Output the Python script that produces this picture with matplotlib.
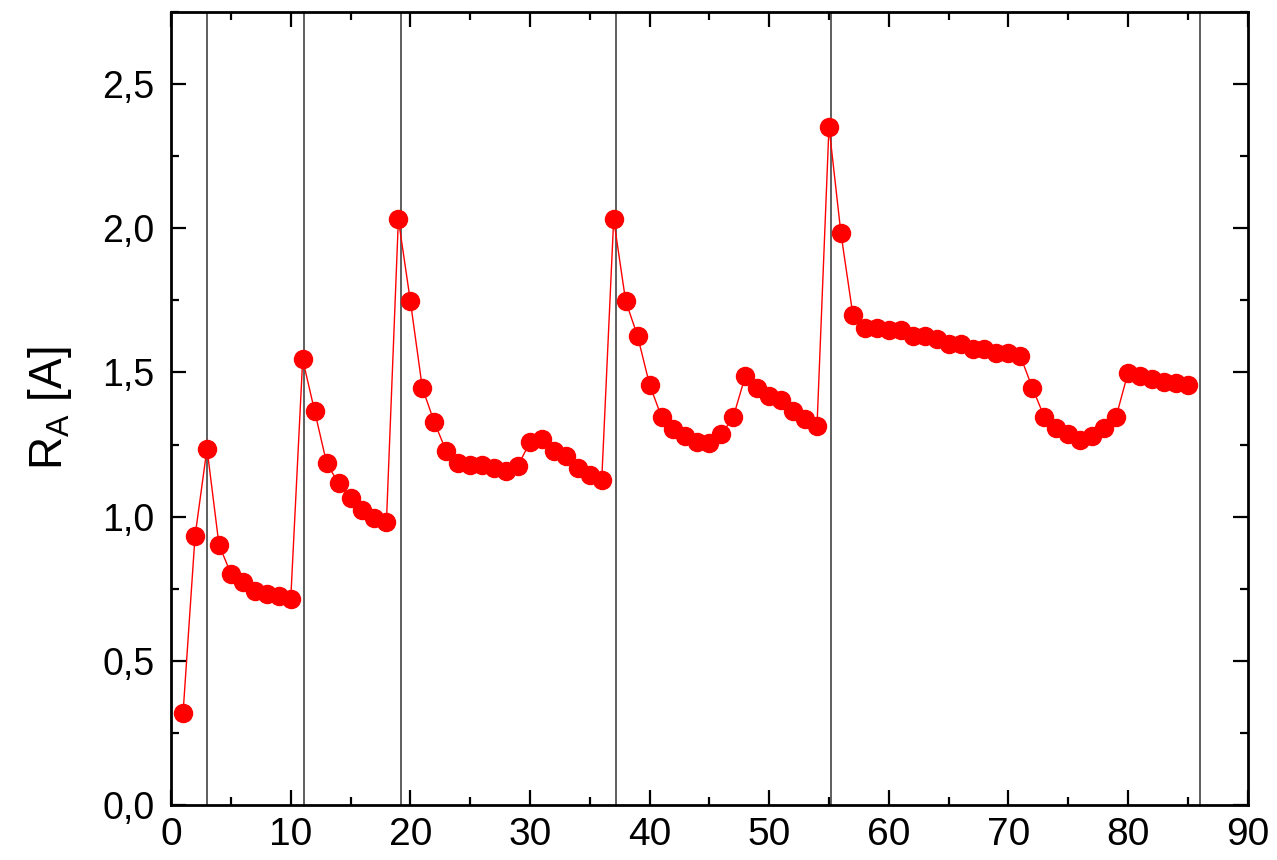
import matplotlib
matplotlib.use("Agg")
import matplotlib.pyplot as plt
from matplotlib.ticker import MultipleLocator, FuncFormatter

plt.rcParams['font.family'] = ['Liberation Sans', 'DejaVu Sans']
plt.rcParams['mathtext.default'] = 'regular'

# data
step = list(range(1, 86))
ra = [0.320, 0.932, 1.236, 0.903, 0.802, 0.775, 0.743, 0.732, 0.723, 0.714,
      1.545, 1.366, 1.186, 1.115, 1.065, 1.024, 0.995, 0.980,
      2.031, 1.748, 1.447, 1.328, 1.227, 1.186, 1.178, 1.180, 1.169, 1.157,
      1.177, 1.258, 1.270, 1.227, 1.209, 1.169, 1.146, 1.126,
      2.031, 1.748, 1.626, 1.458, 1.346, 1.304, 1.279, 1.258, 1.256, 1.285,
      1.346, 1.487, 1.447, 1.418, 1.406, 1.366, 1.337, 1.316,
      2.353, 1.982, 1.699, 1.655, 1.655, 1.647, 1.647, 1.626, 1.628, 1.617,
      1.597, 1.597, 1.580, 1.580, 1.568, 1.568, 1.557,
      1.447, 1.346, 1.308, 1.285, 1.267, 1.279, 1.308, 1.346,
      1.499, 1.487, 1.476, 1.468, 1.464, 1.456]
markers_at = [3, 11.1, 19.2, 37.2, 55.2, 86]

fig = plt.figure(figsize=(12.77, 8.6), dpi=100)
ax = fig.add_axes([0.134, 0.064, 0.843, 0.922])

for xv in markers_at:
    ax.axvline(xv, color='0.2', lw=1.1, zorder=1)

ax.plot(step, ra, color='red', lw=1.0, marker='o', markersize=13,
        markerfacecolor='red', markeredgecolor='red', zorder=3)

ax.set_xlim(0, 90)
ax.set_ylim(0, 2.75)
ax.xaxis.set_major_locator(MultipleLocator(10))
ax.xaxis.set_minor_locator(MultipleLocator(5))
ax.yaxis.set_major_locator(MultipleLocator(0.5))
ax.yaxis.set_minor_locator(MultipleLocator(0.25))
ax.yaxis.set_major_formatter(FuncFormatter(lambda v, p: f"{v:.1f}".replace('.', ',')))

for s in ax.spines.values():
    s.set_linewidth(2.0)
ax.tick_params(which='both', direction='in', top=True, right=True, width=1.6)
ax.tick_params(which='major', length=11)
ax.tick_params(which='minor', length=6)
ax.tick_params(axis='y', labelsize=27, pad=12)
ax.tick_params(axis='x', labelsize=28, pad=9)

ax.set_ylabel(r"R$_{A}$ [A]", fontsize=33, labelpad=20)

fig.savefig("out.png", dpi=100)
